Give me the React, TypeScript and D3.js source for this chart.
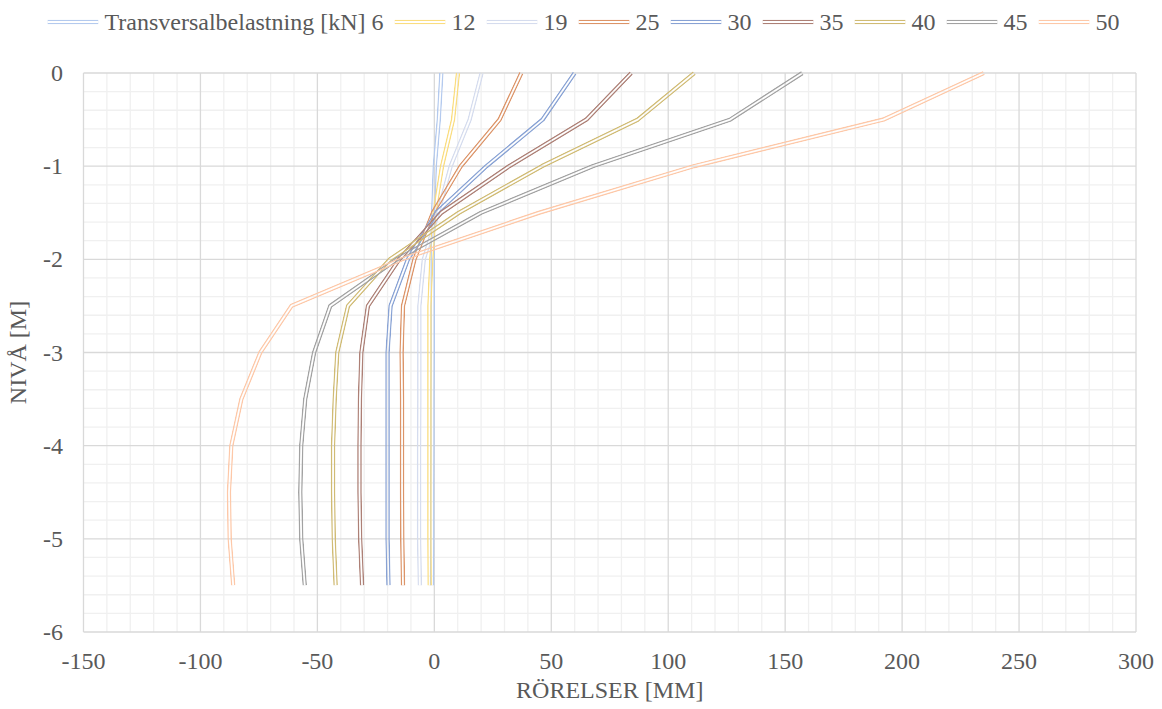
import React, { useEffect, useRef } from "react";
import * as d3 from "d3";

const levels = [0, -0.5, -1, -1.5, -2, -2.5, -3, -3.5, -4, -4.5, -5, -5.5];
const seriesNames = ["Transversalbelastning [kN] 6", "12", "19", "25", "30", "35", "40", "45", "50"];
const s6 = [3.0, 1.9, 0.2, -0.5, -0.7, -0.7, -0.7, -0.8, -0.8, -0.9, -0.9, -1.0];
const s12 = [10.1, 8.0, 3.3, 0.1, -1.3, -2.1, -2.1, -2.1, -2.1, -2.1, -2.1, -2.0];
const s19 = [20.2, 15.1, 7.0, 1.6, -4.5, -6.4, -6.4, -6.4, -6.5, -6.5, -6.5, -6.2];
const s25 = [37.2, 27.9, 11.3, -0.6, -8.5, -13.4, -14.0, -13.8, -13.8, -13.8, -13.7, -13.4];
const s30 = [60.0, 46.3, 22.3, 0.9, -11.3, -18.7, -20.0, -20.0, -20.0, -20.0, -20.0, -19.6];
const s35 = [84.2, 65.0, 32.0, 3.0, -15.0, -28.4, -31.2, -31.8, -32.0, -32.0, -31.7, -30.9];
const s40 = [111.2, 87.0, 46.0, 10.5, -19.0, -36.9, -41.5, -42.6, -43.3, -43.3, -43.0, -42.2];
const s45 = [157.4, 126.5, 67.8, 20.0, -16.0, -44.5, -51.4, -55.2, -56.9, -57.3, -56.9, -55.4];
const s50 = [235.0, 192.0, 111.0, 44.8, -14.0, -61.1, -74.4, -82.5, -86.8, -87.8, -87.5, -86.0];
const seriesValues = [s6, s12, s19, s25, s30, s35, s40, s45, s50];
const seriesColors = ["#B4CAEE", "#FADD80", "#D5DCEE", "#DC9468", "#88A2D4", "#AD8076", "#D0BB74", "#A2A2A2", "#FDC8A8"];

const xMajorTicks = [-150, -100, -50, 0, 50, 100, 150, 200, 250, 300];
const yMajorTicks = [0, -1, -2, -3, -4, -5, -6];
const xTitle = "RÖRELSER [MM]";
const yTitle = "NIVÅ [M]";

const W = 1162;
const H = 709;
const FONT = "Liberation Serif, Times New Roman, Times, DejaVu Serif, serif";

export default function App() {
  const ref = useRef<SVGSVGElement | null>(null);

  useEffect(() => {
    const svg = d3.select(ref.current);
    svg.selectAll("*").remove();

    const left = 83.5, right = 1136, top = 73, bottom = 632;
    const x = d3.scaleLinear().domain([-150, 300]).range([left, right]);
    const y = d3.scaleLinear().domain([0, -6]).range([top, bottom]);

    const grid = svg.append("g");
    const xMinor = d3.range(-150, 300.001, 10).filter((v) => !xMajorTicks.includes(Math.round(v)));
    const yMinor = d3.range(0, -6.0001, -0.2).filter((v) => !yMajorTicks.some((t) => Math.abs(t - v) < 1e-6));

    grid.selectAll(".xm").data(xMinor).join("line")
      .attr("class", "xm")
      .attr("x1", (d) => x(d)).attr("x2", (d) => x(d)).attr("y1", top).attr("y2", bottom)
      .attr("stroke", "#F0F0F0").attr("stroke-width", 1.3);
    grid.selectAll(".ym").data(yMinor).join("line")
      .attr("class", "ym")
      .attr("x1", left).attr("x2", right).attr("y1", (d) => y(d)).attr("y2", (d) => y(d))
      .attr("stroke", "#F0F0F0").attr("stroke-width", 1.3);
    grid.selectAll(".xM").data(xMajorTicks).join("line")
      .attr("class", "xM")
      .attr("x1", (d) => x(d)).attr("x2", (d) => x(d)).attr("y1", top).attr("y2", bottom)
      .attr("stroke", "#D9D9D9").attr("stroke-width", 1.3);
    grid.selectAll(".yM").data(yMajorTicks).join("line")
      .attr("class", "yM")
      .attr("x1", left).attr("x2", right).attr("y1", (d) => y(d)).attr("y2", (d) => y(d))
      .attr("stroke", "#D9D9D9").attr("stroke-width", 1.3);

    // tick labels
    svg.append("g").selectAll("text").data(xMajorTicks).join("text")
      .attr("x", (d) => x(d)).attr("y", 669)
      .attr("text-anchor", "middle")
      .style("font-family", FONT).attr("font-size", 24).attr("fill", "#595959")
      .text((d) => String(d));
    svg.append("g").selectAll("text").data(yMajorTicks).join("text")
      .attr("x", 63).attr("y", (d) => y(d) + 8)
      .attr("text-anchor", "end")
      .style("font-family", FONT).attr("font-size", 24).attr("fill", "#595959")
      .text((d) => String(d));

    svg.append("text").attr("x", (left + right) / 2).attr("y", 698)
      .attr("text-anchor", "middle")
      .style("font-family", FONT).attr("font-size", 24).attr("fill", "#595959")
      .text(xTitle);
    svg.append("text")
      .attr("transform", `translate(26, ${(top + bottom) / 2}) rotate(-90)`)
      .attr("text-anchor", "middle")
      .style("font-family", FONT).attr("font-size", 24).attr("fill", "#595959")
      .text(yTitle);

    const defs = svg.append("defs");
    const line = d3.line<number>().x((d) => x(d)).y((_, i) => y(levels[i]));
    const outerW = 4.6, innerW = 1.8;

    seriesValues.forEach((vals, si) => {
      const id = `m${si}`;
      const dStr = line(vals) || "";
      const mask = defs.append("mask").attr("id", id)
        .attr("maskUnits", "userSpaceOnUse")
        .attr("x", 0).attr("y", 0).attr("width", W).attr("height", H);
      mask.append("path").attr("d", dStr).attr("fill", "none")
        .attr("stroke", "white").attr("stroke-width", outerW).attr("stroke-linejoin", "round");
      mask.append("path").attr("d", dStr).attr("fill", "none")
        .attr("stroke", "black").attr("stroke-width", innerW).attr("stroke-linejoin", "round");
      svg.append("path").attr("d", dStr).attr("fill", "none")
        .attr("stroke", seriesColors[si]).attr("stroke-width", outerW)
        .attr("stroke-linejoin", "round")
        .attr("mask", `url(#${id})`);
    });

    // legend
    const lg = svg.append("g");
    const sampleW = 51, textGap = 6, itemGap = 11;
    const texts = seriesNames.map((n) => {
      const t = lg.append("text").style("font-family", FONT).attr("font-size", 24)
        .attr("fill", "#595959").attr("y", 30).text(n);
      return t;
    });
    const widths = texts.map((t) => (t.node() as SVGTextElement).getComputedTextLength());
    const total = widths.reduce((a, w) => a + sampleW + textGap + w, 0) + itemGap * (widths.length - 1);
    let cx = 583.5 - total / 2;
    seriesNames.forEach((n, i) => {
      const ly = 22;
      const id = `lm${i}`;
      const dStr = `M${cx},${ly}L${cx + sampleW},${ly}`;
      const mask = defs.append("mask").attr("id", id)
        .attr("maskUnits", "userSpaceOnUse")
        .attr("x", 0).attr("y", 0).attr("width", W).attr("height", H);
      mask.append("path").attr("d", dStr).attr("stroke", "white").attr("stroke-width", outerW);
      mask.append("path").attr("d", dStr).attr("stroke", "black").attr("stroke-width", innerW);
      lg.append("path").attr("d", dStr).attr("stroke", seriesColors[i]).attr("stroke-width", outerW)
        .attr("mask", `url(#${id})`);
      texts[i].attr("x", cx + sampleW + textGap);
      cx += sampleW + textGap + widths[i] + itemGap;
    });
  }, []);

  return (
    <svg
      ref={ref}
      width={W}
      height={H}
      style={{ position: "absolute", left: 0, top: 0, background: "#fff" }}
    />
  );
}
